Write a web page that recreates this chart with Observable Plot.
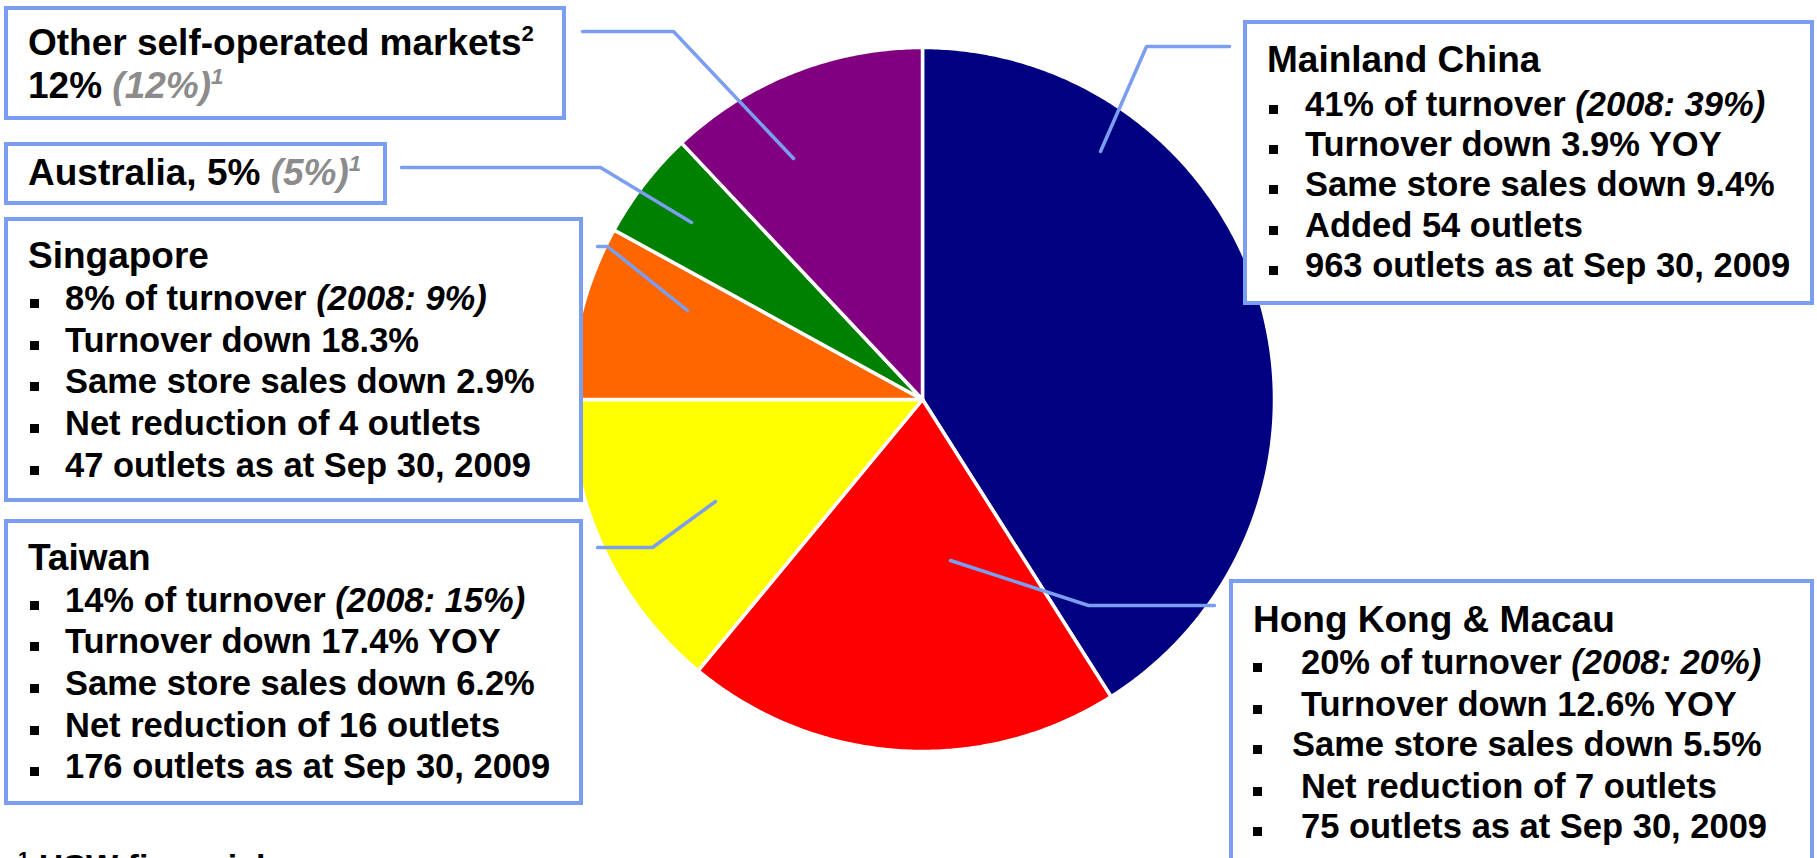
<!DOCTYPE html>
<html><head><meta charset="utf-8">
<script src="https://cdn.jsdelivr.net/npm/d3@7"></script>
<script src="https://cdn.jsdelivr.net/npm/@observablehq/plot@0.6"></script>
<style>
html,body{margin:0;padding:0;background:#fff;overflow:hidden}
#wrap{position:relative;width:1817px;height:858px;overflow:hidden;font-family:"Liberation Sans",Arial,Helvetica,sans-serif;font-weight:bold;color:#000}
#wrap svg{display:block}
.box{position:absolute;background:#fff;border:4px solid #7b9ef0;box-sizing:border-box}
.ln{position:absolute;white-space:nowrap;line-height:1}
.sq{position:absolute;width:9px;height:9px;background:#000}
.gray{color:#8c8c8c;font-style:italic}
sup{font-size:60%;line-height:0;vertical-align:0;position:relative;top:-0.62em}
</style></head>
<body><div id="wrap"></div>
<script>
// ---- data ----
const regions = ["Mainland China","Hong Kong & Macau","Taiwan","Singapore","Australia","Other self-operated markets"];
const shares = [41, 20, 14, 8, 5, 12];          // % of turnover 2009
const shares2008 = [39, 20, 15, 9, 5, 12];      // % of turnover 2008
const colors = ["#000080","#ff0000","#ffff00","#ff6600","#008000","#800080"];
const turnoverDown = [3.9, 12.6, 17.4, 18.3];
const yoyLabel = [true, true, true, false];
const sameStoreDown = [9.4, 5.5, 6.2, 2.9];
const outletChange = [54, -7, -16, -4];
const outletsSep2009 = [963, 75, 176, 47];
const footnote = "HSW financial year";

// ---- layout (annotation geometry, pixels) ----
const W = 1817, H = 858;
const pie = {cx: 922, cy: 399, r: 352};
const leaders = [
  [[1229,46],[1146,46],[1100,151]],
  [[1214,605],[1088,605],[950,560]],
  [[597,547],[652,547],[715,501]],
  [[597,246],[607,246],[687,310]],
  [[401,167],[600,167],[691,222]],
  [[582,31],[673,31],[793,158]]
];
const boxes = [
  {l:1243,t:20,r:1814,b:305, tx:1267, tb:72, bx:1269, lx:[1305,1305,1305,1305,1305], bl:[116,156,196,237,277]},
  {l:1229,t:579,r:1814,b:880, tx:1253, tb:632, bx:1253, lx:[1301,1301,1292,1301,1301], bl:[674,716,756,798,838]},
  {l:4,t:519,r:583,b:805, tx:28, tb:570, bx:30, lx:[65,65,65,65,65], bl:[612,653,695,737,778]},
  {l:4,t:217,r:583,b:502, tx:28, tb:268, bx:30, lx:[65,65,65,65,65], bl:[310,352,393,435,477]},
  {l:4,t:142,r:387,b:205, tx:28, tb:185},
  {l:4,t:6,r:566,b:120, tx:28, tb:55, tb2:98}
];
const TF = 37, BF = 34.5;

// ---- pie wedges via Plot ----
const total = d3.sum(shares);
let cum = 0;
const wedgeMarks = [];
regions.forEach((name, i) => {
  const a0 = cum / total * 2 * Math.PI; cum += shares[i];
  const a1 = cum / total * 2 * Math.PI;
  const n = Math.max(2, Math.ceil((a1 - a0) / (Math.PI / 360)));
  const pts = [{x: pie.cx, y: pie.cy}];
  for (let k = 0; k <= n; k++) {
    const a = a0 + (a1 - a0) * k / n;
    pts.push({x: pie.cx + pie.r * Math.sin(a), y: pie.cy - pie.r * Math.cos(a)});
  }
  pts.push({x: pie.cx, y: pie.cy});
  wedgeMarks.push(Plot.line(pts, {x: "x", y: "y", fill: colors[i], stroke: "white", strokeWidth: 3.5, strokeLinejoin: "round"}));
});
const leaderData = leaders.flatMap((pts, i) => pts.map(([x, y]) => ({x, y, region: regions[i]})));

const chart = Plot.plot({
  width: W, height: H, margin: 0,
  x: {domain: [0, W], range: [0, W], axis: null},
  y: {domain: [0, H], range: [0, H], axis: null},
  style: {background: "#fff"},
  marks: [
    ...wedgeMarks,
    Plot.line(leaderData, {x: "x", y: "y", z: "region", stroke: "#7b9ef0", strokeWidth: 3.5, strokeLinejoin: "miter"})
  ]
});
const wrap = document.getElementById("wrap");
wrap.appendChild(chart);

// ---- annotation boxes (HTML) ----
function addLine(html, x, baseline, size) {
  const d = document.createElement("div");
  d.className = "ln";
  d.style.fontSize = size + "px";
  d.style.left = x + "px";
  d.style.top = (baseline - 0.8465 * size) + "px";
  d.innerHTML = html;
  wrap.appendChild(d);
}
function addSquare(x, baseline) {
  const s = document.createElement("div");
  s.className = "sq";
  s.style.left = x + "px";
  s.style.top = (baseline - 11) + "px";
  wrap.appendChild(s);
}
boxes.forEach((b, i) => {
  const el = document.createElement("div");
  el.className = "box";
  el.style.left = b.l + "px"; el.style.top = b.t + "px";
  el.style.width = (b.r - b.l) + "px"; el.style.height = (b.b - b.t) + "px";
  wrap.appendChild(el);
  if (i < 4) {
    addLine(regions[i], b.tx, b.tb, TF);
    const ch = outletChange[i];
    const lines = [
      `${shares[i]}% of turnover <i>(2008: ${shares2008[i]}%)</i>`,
      `Turnover down ${turnoverDown[i]}%${yoyLabel[i] ? " YOY" : ""}`,
      `Same store sales down ${sameStoreDown[i]}%`,
      ch > 0 ? `Added ${ch} outlets` : `Net reduction of ${-ch} outlets`,
      `${outletsSep2009[i]} outlets as at Sep 30, 2009`
    ];
    lines.forEach((t, k) => { addSquare(b.bx, b.bl[k]); addLine(t, b.lx[k], b.bl[k], BF); });
  } else if (i === 4) {
    addLine(`${regions[i]}, ${shares[i]}% <span class="gray">(${shares2008[i]}%)<sup>1</sup></span>`, b.tx, b.tb, TF);
  } else {
    addLine(`${regions[i]}<sup>2</sup>`, b.tx, b.tb, TF);
    addLine(`${shares[i]}% <span class="gray">(${shares2008[i]}%)<sup>1</sup></span>`, b.tx, b.tb2, TF);
  }
});
addLine(`<sup>1</sup> ${footnote}`, 18, 878, 34);
</script>
</body></html>
